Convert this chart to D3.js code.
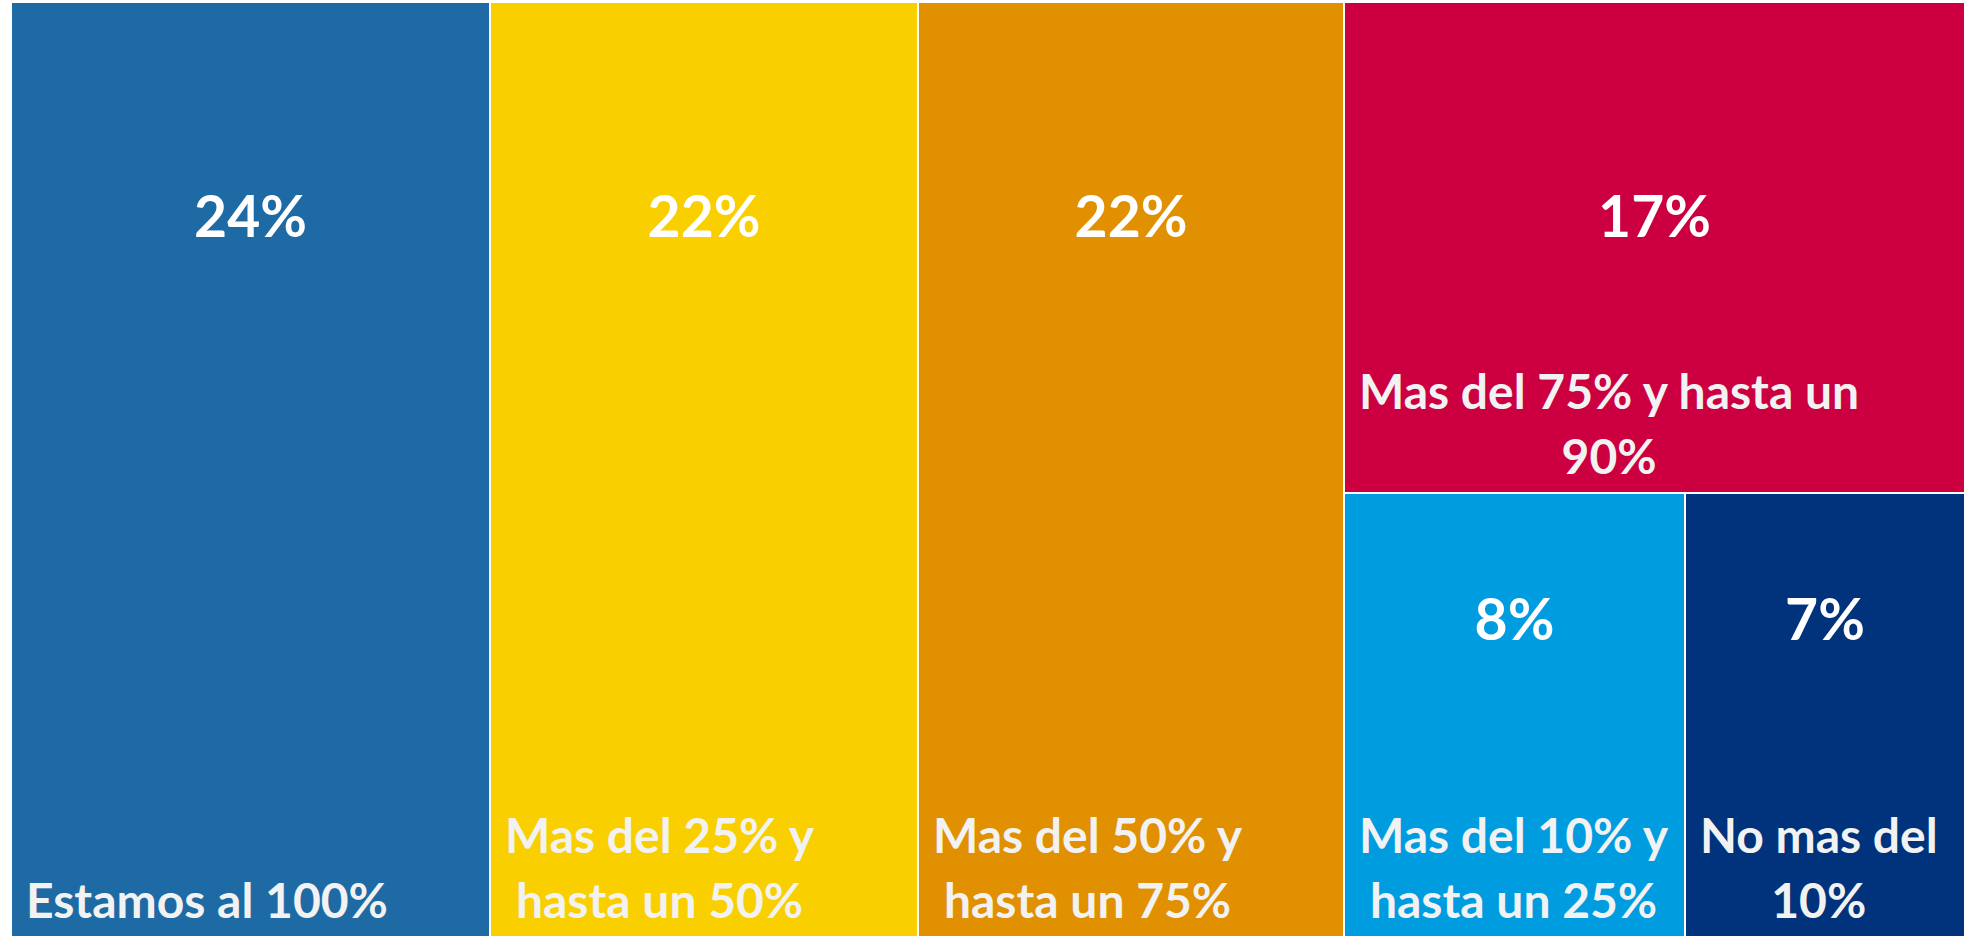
<!DOCTYPE html>
<html>
<head>
<meta charset="utf-8">
<script src="https://cdn.jsdelivr.net/npm/d3@7/dist/d3.min.js"></script>
<style>
  html, body { margin: 0; padding: 0; background: #ffffff; }
  svg { display: block; }
</style>
</head>
<body>
<svg id="chart" width="1964" height="936"></svg>
<script>
// ---- data ----
const categories = [
  "Estamos al 100%",
  "Mas del 25% y hasta un 50%",
  "Mas del 50% y hasta un 75%",
  "Mas del 75% y hasta un 90%",
  "Mas del 10% y hasta un 25%",
  "No mas del 10%"
];
// percentages printed on each tile
const percentLabels = [24, 22, 22, 17, 8, 7];
// relative tile areas as measured in the picture
const areaShares = [24.5, 21.9, 21.8, 16.7, 8.3, 6.8];
// nesting of the tiles: the last three share one column, the last two one row
const groupOf = ["", "", "", "G", "G/H", "G/H"];
const colors = ["#1E6AA5", "#F9CF00", "#E09000", "#CC0040", "#009CE0", "#00337C"];

// ---- build hierarchy ----
function buildTree() {
  const root = { name: "root", children: [] };
  const nodes = { "": root };
  categories.forEach((c, i) => {
    const path = groupOf[i];
    let parent = root;
    if (path) {
      const parts = path.split("/");
      let key = "";
      parts.forEach(p => {
        key = key ? key + "/" + p : p;
        if (!nodes[key]) {
          nodes[key] = { name: key, children: [] };
          parent.children.push(nodes[key]);
        }
        parent = nodes[key];
      });
    }
    parent.children.push({ name: c, value: areaShares[i], pct: percentLabels[i], color: colors[i], index: i });
  });
  return root;
}

const W = 1964, H = 936;
const margin = { left: 12, top: 3, right: 0, bottom: 0 };
const innerW = W - margin.left - margin.right;
const innerH = H - margin.top - margin.bottom;

const svg = d3.select("#chart");
const g = svg.append("g").attr("transform", `translate(${margin.left},${margin.top})`);

const root = d3.hierarchy(buildTree()).sum(d => d.value || 0);
d3.treemap()
  .tile(d3.treemapSliceDice)
  .size([innerW, innerH])
  .paddingInner(2)
  .round(true)(root);

const leaves = root.leaves();

const cells = g.selectAll("g.cell").data(leaves).join("g").attr("class", "cell");

cells.append("rect")
  .attr("x", d => d.x0)
  .attr("y", d => d.y0)
  .attr("width", d => d.x1 - d.x0)
  .attr("height", d => d.y1 - d.y0)
  .attr("fill", d => d.data.color);

const FONT = "Lato, 'Open Sans', 'Noto Sans', sans-serif";
const pctSize = 57, catSize = 48, lineH = 65;

// percent labels
cells.append("text")
  .attr("x", d => (d.x0 + d.x1) / 2)
  .attr("y", d => d.y0 + (d.y0 <= 0 ? 0.251 : 0.1565) * innerH)
  .attr("text-anchor", "middle")
  .style("font-family", FONT)
  .style("font-weight", 700)
  .style("font-size", pctSize + "px")
  .attr("fill", "#FFFFFF")
  .text(d => d.data.pct + "%");

// category labels: wrapped, bottom-aligned, block at left, lines centered within the block
const measurer = svg.append("text")
  .style("font-family", FONT).style("font-weight", 700).style("font-size", catSize + "px")
  .attr("visibility", "hidden");
function textWidth(s) { measurer.text(s); return measurer.node().getComputedTextLength(); }

cells.each(function(d) {
  const maxW = (d.x1 - d.x0) - 24;
  const words = d.data.name.split(" ");
  const lines = [];
  let cur = "";
  words.forEach(w => {
    const test = cur ? cur + " " + w : w;
    if (cur && textWidth(test) > maxW) { lines.push(cur); cur = w; }
    else cur = test;
  });
  if (cur) lines.push(cur);
  const widths = lines.map(textWidth);
  const blockW = d3.max(widths);
  const cx = d.x0 + 14 + blockW / 2;
  const lastBase = d.y1 - 18;
  const t = d3.select(this).append("text")
    .attr("text-anchor", "middle")
    .style("font-family", FONT)
    .style("font-weight", 700)
    .style("font-size", catSize + "px")
    .attr("fill", "#F2F2F2");
  lines.forEach((ln, i) => {
    t.append("tspan")
      .attr("x", cx)
      .attr("y", lastBase - (lines.length - 1 - i) * lineH)
      .text(ln);
  });
});
measurer.remove();
</script>
</body>
</html>
